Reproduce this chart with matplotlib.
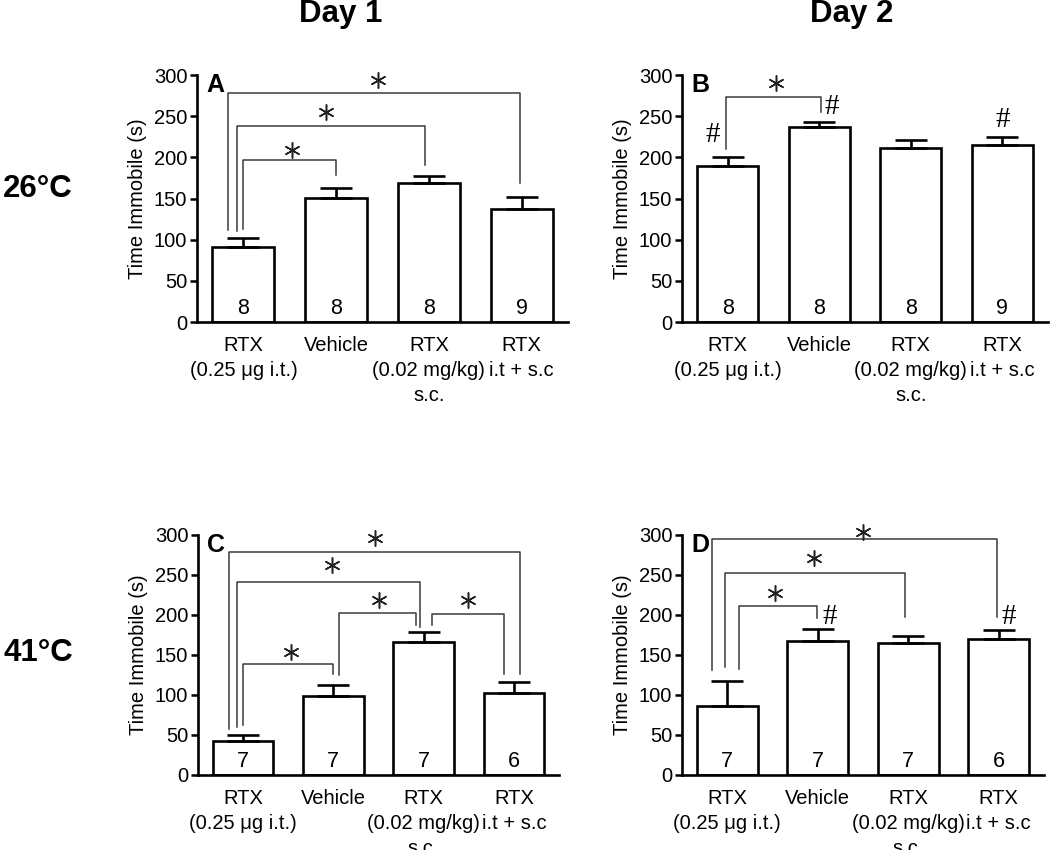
import matplotlib
matplotlib.use("Agg")
import matplotlib.pyplot as plt
import numpy as np

plt.rcParams["font.family"] = ["Liberation Sans", "DejaVu Sans"]

groups = ["RTX\n(0.25 μg i.t.)", "Vehicle", "RTX\n(0.02 mg/kg)\ns.c.", "RTX\ni.t + s.c"]

# means / SEM
mean_a = [91.5, 151, 168.5, 137]
sem_a = [10.2, 12, 9.3, 14.5]
mean_b = [189, 236.5, 211, 215]
sem_b = [11.5, 6.5, 10.5, 10]
mean_c = [42.5, 98.5, 166, 103]
sem_c = [7.5, 13.5, 13, 13]
mean_d = [86.5, 167.5, 165.5, 170]
sem_d = [31, 15, 8.5, 11]

n_a = [8, 8, 8, 9]
n_b = [8, 8, 8, 9]
n_c = [7, 7, 7, 6]
n_d = [7, 7, 7, 6]

# brackets: (x left, x right, height, left leg bottom, right leg bottom)
brackets_a = [(-0.17, 2.98, 278, 112, 169), (-0.07, 1.96, 238.5, 110, 191),
              (0.0, 1.0, 197, 113, 178.6)]
stars_a = [(1.45, 294), (0.89, 255), (0.52, 209)]
hash_a = []

brackets_b = [(-0.02, 1.02, 273, 210, 255)]
stars_b = [(0.53, 290)]
hash_b = [(-0.165, 227), (1.135, 261.5), (3.0, 245)]

brackets_c = [(-0.16, 3.07, 279, 58, 126), (-0.07, 1.96, 241.7, 60, 185),
              (1.06, 1.91, 202, 125, 187.5), (2.09, 2.89, 201, 187.5, 126),
              (0.0, 1.0, 139, 62, 126)]
stars_c = [(1.46, 296), (0.98, 262), (1.50, 219), (2.49, 219), (0.53, 154)]
hash_c = []

brackets_d = [(-0.17, 2.98, 294.6, 131, 198), (-0.02, 1.96, 253, 135, 198),
              (0.135, 0.99, 211, 132.5, 196)]
stars_d = [(1.50, 304), (0.96, 271), (0.53, 227.5)]
hash_d = [(1.13, 198), (3.11, 198)]

W, H = 1050, 850


def px_axes(fig, x0, x1, ytop, ybot):
    return fig.add_axes([x0 / W, 1 - ybot / H, (x1 - x0) / W, (ybot - ytop) / H])


def draw_panel(ax, letter, means, sems, ns, brackets, stars, hashes):
    x = np.arange(len(groups))
    ax.bar(x, means, width=0.67, color="white", edgecolor="black", linewidth=1.9, zorder=2)
    ax.errorbar(x, means, yerr=[np.zeros(len(sems)), sems], fmt="none", ecolor="black",
                elinewidth=1.9, capsize=11.5, capthick=1.9, zorder=3)
    for xi, n in zip(x, ns):
        ax.text(xi, 17, str(n), ha="center", va="center", fontsize=15.5, zorder=4)

    for xl, xr, yb, yl, yr in brackets:
        ax.plot([xl, xl, xr, xr], [yl, yb, yb, yr], color="#3a3a3a", lw=1.1,
                clip_on=False, zorder=1)
    for sx, sy in stars:
        ax.plot(sx, sy, marker=(6, 2, 0), ms=11.5, mew=1.1, color="#222222",
                clip_on=False, zorder=5)
    for hx, hy in hashes:
        ax.text(hx, hy, "#", ha="center", va="center", fontsize=21,
                family=["Liberation Serif", "DejaVu Serif"], zorder=5)

    ax.text(-0.40, 288, letter, ha="left", va="center", fontsize=18, fontweight="bold")

    ax.set_xlim(-0.5, 3.5)
    ax.set_ylim(0, 300)
    ax.set_yticks(np.arange(0, 301, 50))
    ax.set_xticks(x)
    ax.set_xticklabels(groups, fontsize=14.5, linespacing=1.4)
    ax.tick_params(axis="x", length=0, pad=10)
    ax.tick_params(axis="y", labelsize=14.5, length=5, width=1.8, pad=2)
    for s in ("top", "right"):
        ax.spines[s].set_visible(False)
    for s in ("left", "bottom"):
        ax.spines[s].set_linewidth(1.9)
    ax.set_ylabel("Time Immobile (s)", fontsize=14.5, labelpad=5)


fig = plt.figure(figsize=(W / 100, H / 100), dpi=100)
fig.patch.set_facecolor("white")

ax_a = px_axes(fig, 197, 568, 75, 322)
ax_b = px_axes(fig, 682, 1048, 75, 322)
ax_c = px_axes(fig, 198, 559, 535, 775)
ax_d = px_axes(fig, 682, 1044, 535, 775)

draw_panel(ax_a, "A", mean_a, sem_a, n_a, brackets_a, stars_a, hash_a)
draw_panel(ax_b, "B", mean_b, sem_b, n_b, brackets_b, stars_b, hash_b)
draw_panel(ax_c, "C", mean_c, sem_c, n_c, brackets_c, stars_c, hash_c)
draw_panel(ax_d, "D", mean_d, sem_d, n_d, brackets_d, stars_d, hash_d)

fig.text(341 / W, 1 - 14 / H, "Day 1", ha="center", va="center", fontsize=22.5, fontweight="bold")
fig.text(852 / W, 1 - 14 / H, "Day 2", ha="center", va="center", fontsize=22.5, fontweight="bold")
fig.text(3 / W, 1 - 189 / H, "26°C", ha="left", va="center", fontsize=22.5, fontweight="bold")
fig.text(3 / W, 1 - 653 / H, "41°C", ha="left", va="center", fontsize=22.5, fontweight="bold")

fig.savefig("out.png", dpi=100, facecolor="white")
